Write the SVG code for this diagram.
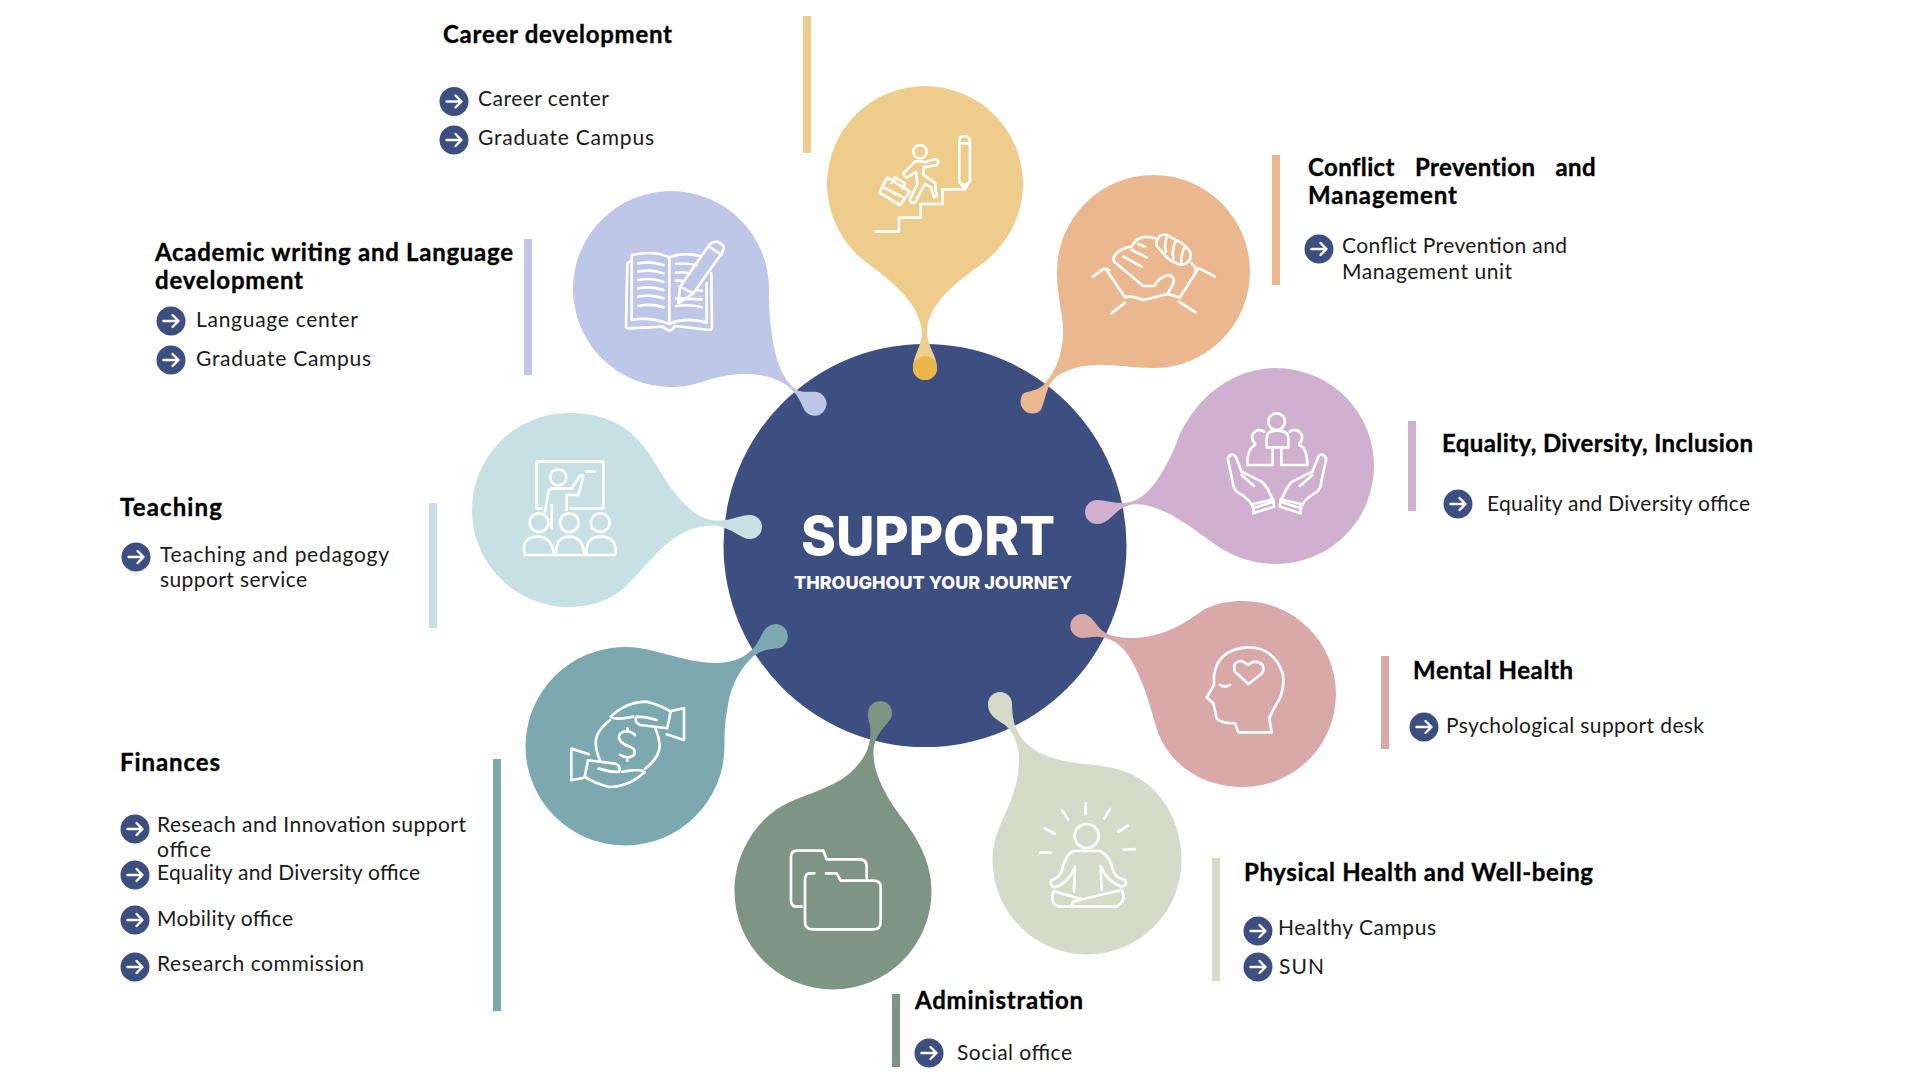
<svg xmlns="http://www.w3.org/2000/svg" width="1920" height="1080" viewBox="0 0 1920 1080">
<style>
text{font-family:"Lato","Liberation Sans",sans-serif}
.h{font-size:24px;font-weight:700;fill:#000;stroke:#000;stroke-width:.35px}
.b{font-size:21px;fill:#1a1a1a}
.c{font-family:"Inter","Liberation Sans",sans-serif;font-weight:800;fill:#fff}
.i{fill:none;stroke:#fff;stroke-width:8;stroke-linecap:round;stroke-linejoin:round}
</style>
<defs>
<g id="bul"><circle r="14.500" fill="#3D4E81"/><path d="M-7.500 0H7M1.500-6L7.500 0L1.500 6" fill="none" stroke="#fff" stroke-width="2.400" stroke-linecap="round" stroke-linejoin="round"/></g>
</defs>
<rect width="1920" height="1080" fill="#fff"/>
<g id="center"><circle cx="925" cy="545.500" r="201.500" fill="#3D4E81"/>
<text class="c" x="801" y="555" textLength="254" lengthAdjust="spacingAndGlyphs" style="font-size:54px">SUPPORT</text>
<text class="c" x="794" y="589" textLength="278" lengthAdjust="spacingAndGlyphs" style="font-size:18px">THROUGHOUT YOUR JOURNEY</text></g>

<g id="career">
<rect x="803" y="16" width="8" height="137" fill="#EECC8C"/>
<path fill="#EECC8C" d="M925 86A98 98 0 0 1 1023 184C1023 216 1006 246 983 263C960 280 927 302 927 333C927 345 937 356 937 368A12 12 0 0 1 913 368C913 356 922 345 922 333C920 302 890 280 867 263C844 246 827 216 827 184A98 98 0 0 1 925 86Z"/>
<circle cx="925" cy="368" r="12" fill="#ECB54A"/>
<g class="i" transform="translate(800 60) scale(.3333)">
<path d="M227 515H297V473H362V432H428V388H495"/><path d="M478 365V245Q478 228 493 228T510 245V362L495 388ZM478 250H510M480 368L495 375L508 368"/>
<circle cx="360" cy="275" r="20"/>
<path d="M345 305L312 338Q308 350 322 352L348 335L352 372L330 418Q330 432 345 428L375 372L393 382L402 412Q415 412 408 395L405 368L370 345V322L410 315Q422 300 405 297L375 307Q360 302 345 305Z"/>
<path d="M262 352L330 395L300 435L238 398ZM275 368L285 352L315 370L308 385M250 382L310 412M275 395L285 402"/>
</g>
<text class="h" x="443" y="43" textLength="229">Career development</text>
<use href="#bul" x="454" y="101.500"/><text class="b" x="478" y="106" textLength="131">Career center</text>
<use href="#bul" x="454" y="140"/><text class="b" x="478" y="145" textLength="176">Graduate Campus</text>
</g>

<g id="conflict">
<rect x="1272" y="155" width="8" height="130" fill="#EAB78F"/>
<path fill="#EAB78F" d="M1153.500 175A96.500 96.500 0 0 1 1153.500 368C1130 368 1110 364 1095 365C1075 366 1058 372 1050 384C1046 392 1045 400 1041 410A12 12 0 1 1 1024 393C1033 390 1040 390 1046 382C1058 368 1064 348 1063 327C1062 310 1057 295 1057 271.500A96.500 96.500 0 0 1 1153.500 175Z"/>
<g class="i" transform="translate(1080 220) scale(.3333)">
<path d="M38 170L72 146L88 150M405 170L358 145L345 150M95 280L135 248M347 278L297 245M78 148L135 232M352 150L300 232M335 130L352 150M135 232Q150 225 190 240L262 222L297 232"/>
<path d="M225 55Q175 40 155 80Q115 85 102 110Q98 125 108 130L190 198H222Q240 170 265 165Q288 170 278 195Q270 210 262 222M130 110L185 140M155 90L200 112M175 72L195 80"/>
<path d="M232 60Q240 40 260 45L285 58Q310 70 325 88Q340 105 325 125Q310 140 290 130Q265 120 250 100L232 80Q225 70 232 60ZM262 50Q250 70 258 95M288 62Q275 85 280 115M315 82Q300 105 305 130"/>
</g>
<text class="h" x="1308" y="176" word-spacing="14" letter-spacing=".37">Conflict Prevention and</text>
<text class="h" x="1308" y="204" textLength="149">Management</text>
<use href="#bul" x="1319" y="249"/><text class="b" x="1342" y="253" textLength="225">Conflict Prevention and</text><text class="b" x="1342" y="279" textLength="170">Management unit</text>
</g>

<g id="equality">
<rect x="1408" y="421" width="8" height="90" fill="#D0B0CF"/>
<path fill="#D0B0CF" d="M1276 368A98 98 0 0 1 1276 564C1250 564 1230 555 1213 543C1195 530 1170 510 1145 505C1135 503 1125 505 1118 511C1112 516 1106 524 1097 524A12 12 0 1 1 1097 500C1105 500 1112 503 1122 503C1145 503 1160 480 1175 447C1190 402 1230 368 1276 368Z"/>
<g class="i" transform="translate(1060 360) scale(.3333)">
<circle cx="650" cy="185" r="25"/><path d="M620 262V235Q620 212 650 212Q685 212 685 235V262Z"/>
<path d="M612 215A22 22 0 1 0 585 250M690 215A22 22 0 1 1 718 250M585 255Q562 265 562 315H638V265M664 265V315H742Q742 265 718 255"/>
<path d="M503 295Q515 275 527 290L545 335L605 365Q622 378 640 425L580 445L570 425Q550 405 530 395Q520 385 518 365ZM545 345L582 378M580 432L640 418L642 440L580 460Z"/>
<g transform="translate(1302 0) scale(-1 1)"><path d="M503 295Q515 275 527 290L545 335L605 365Q622 378 640 425L580 445L570 425Q550 405 530 395Q520 385 518 365ZM545 345L582 378M580 432L640 418L642 440L580 460Z"/></g>
</g>
<text class="h" x="1442" y="452" textLength="311">Equality, Diversity, Inclusion</text>
<use href="#bul" x="1458" y="504"/><text class="b" x="1487" y="511" textLength="263">Equality and Diversity office</text>
</g>

<g id="mental">
<rect x="1381" y="656" width="8" height="93" fill="#D9A8A8"/>
<path fill="#D9A8A8" d="M1243 601A93 93 0 0 1 1243 787C1200 787 1165 762 1155 723C1150 705 1143 680 1130 658C1122 645 1112 638 1100 637C1093 636 1088 638 1082 638A12 12 0 1 1 1092 619C1097 624 1100 631 1108 634C1122 640 1145 640 1170 630C1185 624 1195 615 1205 609C1217 603 1230 601 1243 601Z"/>
<g class="i" transform="translate(1060 360) scale(.3333)">
<path d="M535 1117H635L628 1075Q640 1045 660 1015Q675 975 668 940Q640 860 560 862Q470 870 462 950V975L440 1012L460 1030L470 1075Q480 1090 525 1090Z"/>
<path d="M565 972L525 935Q515 905 545 903L565 915Q585 895 608 915Q615 935 600 945Z"/><path d="M480 975Q495 985 510 975"/>
</g>
<text class="h" x="1413" y="679" textLength="160">Mental Health</text>
<use href="#bul" x="1424" y="727"/><text class="b" x="1446" y="733" textLength="258">Psychological support desk</text>
</g>

<g id="physical">
<rect x="1212" y="858" width="8" height="123" fill="#D6DAC8"/>
<path fill="#D6DAC8" d="M1181.500 860A94.500 94.500 0 0 1 992.500 860C992.500 840 1000 825 1007 810C1013 795 1019 780 1019 760C1019 745 1013 731 1005 725C998 720 988 716 988 704A12 12 0 1 1 1012 704C1012 712 1013 722 1017 730C1025 748 1045 758 1070 762C1085 765 1100 764 1120 770C1155 780 1181.500 815 1181.500 860Z"/>
<g class="i" transform="translate(720 690) scale(.3333)">
<path d="M1097 340V373M1027 362L1044 388M975 415L1005 432M960 488H993M1170 357L1153 385M1224 407L1195 425M1245 477L1212 479"/>
<circle cx="1100" cy="438" r="36"/>
<path d="M1060 483H1140Q1170 495 1180 545Q1190 565 1215 570Q1225 585 1205 590Q1160 575 1142 528L1145 600M1060 483Q1035 495 1025 545Q1015 565 995 570Q985 585 1003 592Q1045 580 1065 530L1062 605"/>
<path d="M1000 605Q988 645 1020 650H1190Q1222 630 1205 600Q1160 610 1060 635Q1050 645 1065 650M1005 605L1085 628"/>
</g>
<text class="h" x="1244" y="881" textLength="349">Physical Health and Well-being</text>
<use href="#bul" x="1258" y="931"/><text class="b" x="1278" y="935" textLength="158">Healthy Campus</text>
<use href="#bul" x="1258" y="967"/><text class="b" x="1279" y="974" textLength="45">SUN</text>
</g>

<g id="administration">
<rect x="892" y="994" width="8" height="73" fill="#7F9584"/>
<path fill="#7F9584" d="M734.500 891C734.500 850 760 815 790 802C815 791 840 785 855 768C868 755 872 740 870 725C868 720 868 718 868 713A12 12 0 1 1 889 721C884 728 877 733 874 746C871 765 880 790 905 822C920 842 931.500 865 931.500 891A98.500 98.500 0 0 1 734.500 891Z"/>
<g class="i" transform="translate(720 690) scale(.3333)">
<path d="M245 650H230Q213 650 213 630V500Q213 482 232 482H310L320 508H420Q440 508 440 530V565"/>
<path d="M283 550H270Q255 550 255 570V695Q255 718 280 718H460Q482 718 482 695V592Q482 572 460 572H362L350 550H318"/>
</g>
<text class="h" x="915" y="1009" textLength="168">Administration</text>
<use href="#bul" x="929" y="1053"/><text class="b" x="957" y="1060" textLength="115">Social office</text>
</g>

<g id="finances">
<rect x="493" y="759" width="8" height="252" fill="#7CA8AF"/>
<path fill="#7CA8AF" d="M625 647C640 647 650 650 665 654C685 659 700 663 715 663C735 663 748 656 756 645C762 637 763 624 777 624A12.500 12.500 0 0 1 780 648C770 649 762 650 755 655C745 663 732 680 728 705C725 720 724.500 730 724.500 746A99.500 99.500 0 0 1 525.500 746A99.500 99.500 0 0 1 625 647Z"/>
<g class="i" transform="translate(460 400) scale(.3333)">
<path d="M525 1005Q510 990 490 995Q470 1005 480 1022Q490 1035 510 1040Q530 1050 522 1065Q505 1080 480 1065M502 985V995M502 1072V1082"/>
<path d="M452 950Q500 905 560 905Q600 915 632 935L622 985L540 975Q520 965 530 950Q560 950 590 960M452 950Q465 962 520 950M637 932L672 925V1020L620 1003M450 960Q400 1000 408 1040Q412 1065 420 1080"/>
<g transform="rotate(180 503 1033)"><path d="M452 950Q500 905 560 905Q600 915 632 935L622 985L540 975Q520 965 530 950Q560 950 590 960M452 950Q465 962 520 950M637 932L672 925V1020L620 1003M450 960Q400 1000 408 1040Q412 1065 420 1080"/></g>
</g>
<text class="h" x="120" y="771" textLength="100">Finances</text>
<use href="#bul" x="135" y="829"/><text class="b" x="157" y="832" textLength="309">Reseach and Innovation support</text><text class="b" x="157" y="857" textLength="54">office</text>
<use href="#bul" x="135" y="875"/><text class="b" x="157" y="880" textLength="263">Equality and Diversity office</text>
<use href="#bul" x="135" y="920"/><text class="b" x="157" y="926" textLength="136">Mobility office</text>
<use href="#bul" x="135" y="967"/><text class="b" x="157" y="971" textLength="207">Research commission</text>
</g>

<g id="teaching">
<rect x="429" y="503" width="8" height="125" fill="#C7DFE2"/>
<path fill="#C7E0E3" d="M569 413C605 413 630 425 650 455C665 480 680 505 700 516C715 524 728 520 738 517Q745 515 750 515A12 12 0 1 1 750 539C742 539 735 531 722 527C705 522 680 530 660 550C650 560 640 572 630 582C615 598 595 607 569 607A97 97 0 1 1 569 413Z"/>
<g class="i" transform="translate(460 400) scale(.3333)">
<path d="M245 325H230V185H430V325H332"/><circle cx="295" cy="232" r="24"/>
<path d="M255 335L265 275Q268 265 280 265H335L362 225L370 228L355 285H320V330M275 315V385M378 215H405"/>
<circle cx="237" cy="368" r="28"/><circle cx="328" cy="368" r="28"/><circle cx="421" cy="368" r="28"/>
<path d="M195 465Q180 410 235 410Q275 410 282 465ZM288 465Q285 410 328 410Q368 410 374 465ZM380 465Q375 410 421 410Q475 410 465 465Z"/>
</g>
<text class="h" x="120" y="516" textLength="102">Teaching</text>
<use href="#bul" x="136" y="557"/><text class="b" x="160" y="562" textLength="229">Teaching and pedagogy</text><text class="b" x="160" y="587" textLength="147">support service</text>
</g>

<g id="academic">
<rect x="524" y="239" width="8" height="136" fill="#BEC7E7"/>
<path fill="#BEC7E7" d="M671 191A98 98 0 0 1 769 289C769 310 770 340 779 365C784 378 790 386 797 390C803 393 811 391 817 392A12 12 0 1 1 803 407C800 401 798 396 793 391C783 380 765 374 745 374C725 374 708 380 695 384C688 386 680 387 671 387A98 98 0 1 1 671 191Z"/>
<g class="i" transform="translate(540 170) scale(.3333)">
<path d="M270 275L262 280L258 470Q258 475 265 475L370 470Q382 485 395 480L405 468L510 480Q518 478 516 465L514 310"/>
<path d="M275 265V450Q330 440 388 462V262Q340 240 275 255ZM388 262Q430 245 480 258M388 462Q440 440 500 458V340"/>
<path d="M295 280Q335 272 370 285M295 305Q335 297 370 310M295 330Q335 322 370 335M295 355Q335 347 370 360M295 380Q335 372 370 385M295 408Q335 400 370 412M408 282Q430 278 470 285M408 308Q425 305 450 310M408 332H425M408 385L485 388M408 408Q450 402 485 412M470 360L485 362"/>
<path d="M510 222Q530 205 550 228Q552 240 545 250L460 370L420 350ZM420 350L415 400L460 370M505 228L545 255"/>
</g>
<text class="h" x="155" y="261" textLength="358">Academic writing and Language</text>
<text class="h" x="155" y="289" textLength="148">development</text>
<use href="#bul" x="171" y="321"/><text class="b" x="196" y="327" textLength="162">Language center</text>
<use href="#bul" x="171" y="360"/><text class="b" x="196" y="366" textLength="175">Graduate Campus</text>
</g>
</svg>
